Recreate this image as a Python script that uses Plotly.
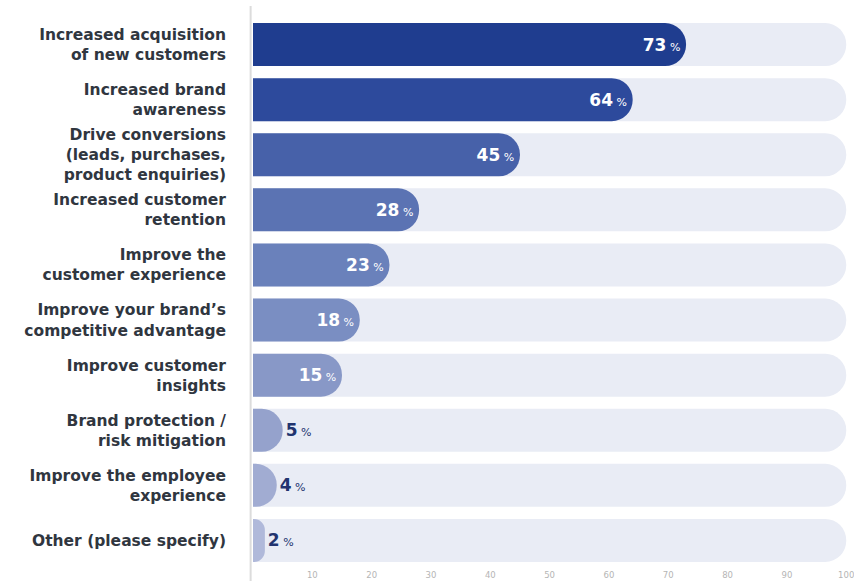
import plotly.graph_objects as go

# Survey results: objectives for the programme (percentage of respondents)
categories = [
    "Increased acquisition<br>of new customers",
    "Increased brand<br>awareness",
    "Drive conversions<br>(leads, purchases,<br>product enquiries)",
    "Increased customer<br>retention",
    "Improve the<br>customer experience",
    "Improve your brand’s<br>competitive advantage",
    "Improve customer<br>insights",
    "Brand protection /<br>risk mitigation",
    "Improve the employee<br>experience",
    "Other (please specify)",
]
values = [73, 64, 45, 28, 23, 18, 15, 5, 4, 2]
bar_colors = [
    "#1f3d8f", "#2d4a9c", "#4761a9", "#5b73b3", "#6a81bb",
    "#7a8ec2", "#8898c7", "#95a2cc", "#a1acd2", "#b0b9da",
]
tick_vals = [10, 20, 30, 40, 50, 60, 70, 80, 90, 100]

TRACK = "#e9ecf5"
LABEL_DARK = "#22346f"

texts = [f"<b>{v}</b><span style='font-size:11px'> %</span>" for v in values]
positions = ["inside" if v >= 10 else "outside" for v in values]
font_colors = ["#ffffff" if v >= 10 else LABEL_DARK for v in values]

fig = go.Figure()

# full-width background track for each row
fig.add_trace(go.Bar(
    y=categories, x=[100] * len(categories), orientation="h",
    marker=dict(color=TRACK, cornerradius=22, line=dict(width=0)),
    width=0.78, hoverinfo="skip", showlegend=False,
))

# value bars, on an overlaid copy of the category axis so they keep their own rounding
fig.add_trace(go.Bar(
    y=categories, x=values, orientation="h", yaxis="y2",
    marker=dict(color=bar_colors, cornerradius=22, line=dict(width=0)),
    width=0.78,
    text=texts, textposition=positions, insidetextanchor="end",
    textfont=dict(family="DejaVu Sans", size=17, color=font_colors),
    constraintext="none", cliponaxis=False, showlegend=False,
))

fig.add_shape(
    type="line", xref="paper", yref="paper",
    x0=-0.004, x1=-0.004, y0=-0.05, y1=1.02,
    line=dict(color="#dcdcdc", width=2), layer="below",
)

fig.update_layout(
    width=854, height=581,
    margin=dict(l=253, r=6, t=17, b=13),
    paper_bgcolor="white", plot_bgcolor="white",
    barmode="overlay", bargap=0.22,
    font=dict(family="DejaVu Sans"),
    xaxis=dict(
        range=[0, 100.3], tickvals=tick_vals, showgrid=False, zeroline=False,
        showline=False, ticks="", automargin=False, ticklabeloverflow="allow",
        tickfont=dict(family="DejaVu Sans", size=8.5, color="#b5b5b5"),
        ticklabelstandoff=0,
    ),
    yaxis=dict(
        autorange="reversed", showgrid=False, zeroline=False, showline=False,
        ticks="", ticklabelstandoff=26, automargin=False,
        tickfont=dict(family="DejaVu Sans", size=15.5, color="#30363f", weight="bold"),
    ),
    yaxis2=dict(
        overlaying="y", matches="y", showticklabels=False, showgrid=False,
        zeroline=False, showline=False, ticks="", automargin=False,
    ),
)

fig.write_html("out.html")
